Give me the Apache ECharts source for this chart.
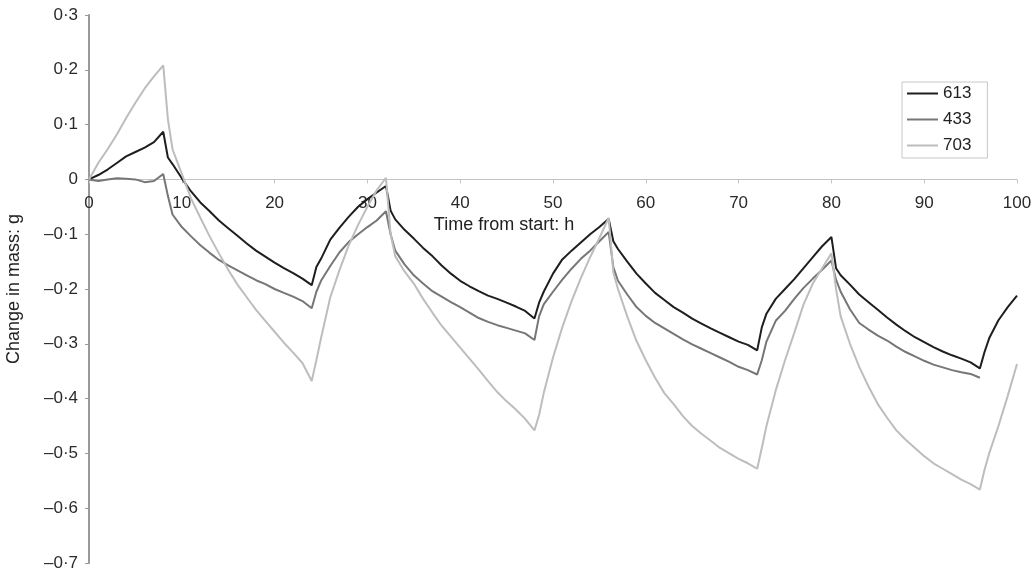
<!DOCTYPE html>
<html><head><meta charset="utf-8">
<script src="https://cdn.jsdelivr.net/npm/echarts@6/dist/echarts.min.js"></script>
<style>html,body{margin:0;padding:0;background:#fff}#c{width:1036px;height:574px}</style>
</head><body><div id="c"></div>
<script>
// Time from start (h)
const hours = [0,1,2,3,4,5,6,7,8,8.5,
  9,10,11,12,13,14,15,16,17,18,19,20,21,22,23,24,24.5,
  25,26,27,28,29,30,31,32,32.5,
  33,34,35,36,37,38,39,40,41,42,43,44,45,46,47,48,48.5,
  49,50,51,52,53,54,55,56,56.5,
  57,58,59,60,61,62,63,64,65,66,67,68,69,70,71,72,72.5,
  73,74,75,76,77,78,79,80,80.5,
  81,82,83,84,85,86,87,88,89,90,91,92,93,94,95,96,96.5,
  97,98,99,100];

// Change in mass (g)
const s613 = [0,0.008,0.018,0.03,0.042,0.05,0.058,0.068,0.087,0.04,
  0.028,0.002,-0.022,-0.042,-0.058,-0.075,-0.089,-0.103,-0.117,-0.13,-0.141,-0.152,-0.162,-0.171,-0.181,-0.193,-0.16,
  -0.145,-0.11,-0.088,-0.068,-0.05,-0.036,-0.024,-0.012,-0.057,
  -0.073,-0.092,-0.108,-0.125,-0.14,-0.157,-0.172,-0.185,-0.195,-0.204,-0.212,-0.218,-0.225,-0.232,-0.24,-0.254,-0.225,
  -0.205,-0.172,-0.146,-0.13,-0.115,-0.1,-0.087,-0.072,-0.113,
  -0.127,-0.15,-0.172,-0.19,-0.207,-0.22,-0.233,-0.243,-0.254,-0.263,-0.272,-0.28,-0.288,-0.296,-0.302,-0.312,-0.27,
  -0.245,-0.218,-0.2,-0.182,-0.162,-0.142,-0.122,-0.105,-0.162,
  -0.175,-0.192,-0.21,-0.224,-0.238,-0.252,-0.265,-0.277,-0.288,-0.297,-0.306,-0.314,-0.321,-0.327,-0.334,-0.345,-0.315,
  -0.29,-0.257,-0.233,-0.212];

const s433 = [0,-0.003,0,0.002,0.001,0,-0.005,-0.003,0.01,-0.03,
  -0.064,-0.087,-0.104,-0.12,-0.134,-0.147,-0.157,-0.166,-0.175,-0.184,-0.191,-0.2,-0.207,-0.214,-0.222,-0.235,-0.205,
  -0.185,-0.158,-0.133,-0.114,-0.1,-0.087,-0.075,-0.058,-0.1,
  -0.13,-0.155,-0.175,-0.19,-0.204,-0.214,-0.224,-0.233,-0.243,-0.253,-0.26,-0.266,-0.271,-0.276,-0.281,-0.293,-0.25,
  -0.228,-0.205,-0.183,-0.163,-0.145,-0.13,-0.113,-0.096,-0.16,
  -0.185,-0.21,-0.233,-0.249,-0.262,-0.272,-0.282,-0.292,-0.301,-0.309,-0.317,-0.325,-0.333,-0.342,-0.348,-0.356,-0.33,
  -0.296,-0.258,-0.24,-0.218,-0.198,-0.181,-0.165,-0.148,-0.183,
  -0.205,-0.237,-0.262,-0.274,-0.285,-0.294,-0.305,-0.315,-0.323,-0.331,-0.338,-0.343,-0.348,-0.352,-0.355,-0.362,null,
  null,null,null,null];

const s703 = [0,0.03,0.055,0.082,0.112,0.14,0.166,0.188,0.208,0.11,
  0.055,0.01,-0.035,-0.07,-0.104,-0.135,-0.165,-0.192,-0.215,-0.238,-0.258,-0.278,-0.298,-0.316,-0.335,-0.368,-0.33,
  -0.29,-0.215,-0.165,-0.12,-0.083,-0.05,-0.02,0.003,-0.1,
  -0.14,-0.168,-0.19,-0.218,-0.243,-0.267,-0.287,-0.307,-0.327,-0.347,-0.368,-0.388,-0.405,-0.42,-0.437,-0.458,-0.43,
  -0.39,-0.325,-0.27,-0.222,-0.18,-0.142,-0.107,-0.07,-0.17,
  -0.2,-0.25,-0.295,-0.33,-0.362,-0.39,-0.41,-0.432,-0.45,-0.464,-0.477,-0.49,-0.5,-0.51,-0.518,-0.528,-0.49,
  -0.45,-0.385,-0.33,-0.28,-0.228,-0.19,-0.162,-0.135,-0.2,
  -0.25,-0.3,-0.342,-0.378,-0.41,-0.435,-0.458,-0.475,-0.49,-0.505,-0.518,-0.528,-0.538,-0.548,-0.556,-0.566,-0.53,
  -0.5,-0.45,-0.395,-0.337];

const seriesNames = ['613','433','703'];
const seriesColors = ['#1e1e1e','#767676','#bdbdbd'];
const seriesValues = [s613, s433, s703];

const Y_MIN = -0.7, Y_MAX = 0.3;

function fmtY(v){
  if (Math.abs(v) < 1e-9) return '0';
  return v.toFixed(1).replace('-', '\u2013').replace('.', '\u00b7');
}

const FONT = '"Liberation Sans", Arial, sans-serif';
const W = 1036, H = 574;
const G = {left: 89, right: 19, top: 15, bottom: 11};
const plotH = H - G.top - G.bottom;
// place the x axis line on y = 0 (distance up from the grid's bottom edge)
const zeroOffset = -plotH * (0 - Y_MIN) / (Y_MAX - Y_MIN);

const chart = echarts.init(document.getElementById('c'), null, {renderer:'canvas'});
chart.setOption({
  animation: false,
  backgroundColor: '#fff',
  grid: Object.assign({outerBoundsMode: 'none', containLabel: false}, G),
  legend: {
    orient: 'vertical', left: 902, top: 82,
    padding: [3, 16, 4, 5], itemGap: 9, itemWidth: 31, itemHeight: 2,
    icon: 'rect', borderColor: '#c8c8c8', borderWidth: 1,
    textStyle: {fontSize: 17, color: '#222', fontFamily: FONT, lineHeight: 16},
    data: seriesNames
  },
  xAxis: {
    type: 'value', min: 0, max: 100, interval: 10,
    position: 'bottom', offset: zeroOffset,
    axisLine: {show: true, onZero: false, lineStyle: {color: '#c4c4c4', width: 1}},
    axisTick: {show: true, length: 4, lineStyle: {color: '#c4c4c4'}},
    axisLabel: {fontSize: 17, color: '#2a2a2a', fontFamily: FONT, margin: 15},
    splitLine: {show: false},
    name: 'Time from start: h', nameLocation: 'middle', nameGap: 34,
    nameTextStyle: {fontSize: 18, color: '#222', fontFamily: FONT, padding: [0, 98, 0, 0]}
  },
  yAxis: {
    type: 'value', min: Y_MIN, max: Y_MAX, interval: 0.1,
    axisLine: {show: true, lineStyle: {color: '#9a9a9a', width: 2}},
    axisTick: {show: true, length: 4, lineStyle: {color: '#9a9a9a'}},
    axisLabel: {fontSize: 17, color: '#2a2a2a', fontFamily: FONT, margin: 11, formatter: fmtY},
    splitLine: {show: false},
    name: 'Change in mass: g', nameLocation: 'middle', nameGap: 66,
    nameTextStyle: {fontSize: 18, color: '#222', fontFamily: FONT}
  },
  series: seriesNames.map((n, i) => ({
    name: n, type: 'line', showSymbol: false, symbol: 'none',
    color: seriesColors[i],
    lineStyle: {width: 2, color: seriesColors[i]},
    connectNulls: false,
    data: hours.map((h, k) => [h, seriesValues[i][k]])
  }))
});
</script>
</body></html>
